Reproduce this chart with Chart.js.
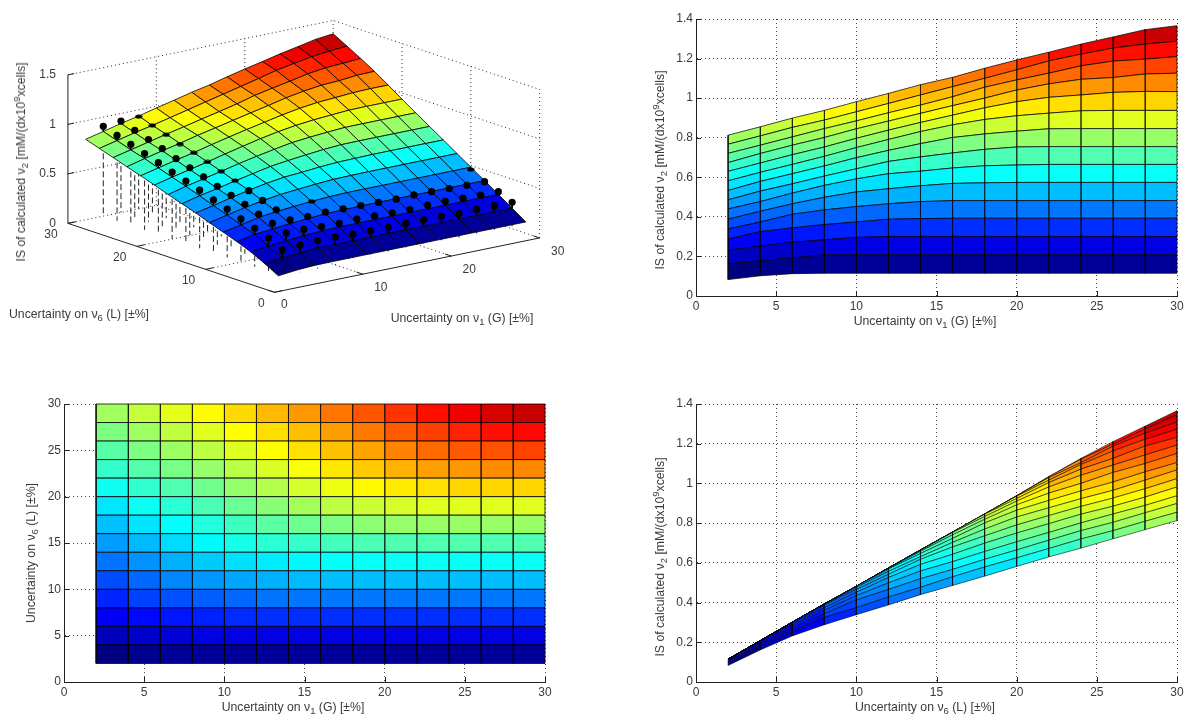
<!DOCTYPE html>
<html>
<head>
<meta charset="utf-8">
<title>IS of calculated v2</title>
<script src="https://cdn.jsdelivr.net/npm/chart.js@4/dist/chart.umd.min.js"></script>
<style>
  html, body { margin: 0; padding: 0; background: #fff; }
  #page { position: relative; width: 1200px; height: 723px; overflow: hidden; }
  canvas { position: absolute; }
  .lbl { position: absolute; font: 12.25px "Liberation Sans", sans-serif; color: #3a3a3a; white-space: nowrap; line-height: 14px; }
  .lbl sub, .lbl sup { font-size: 9.5px; line-height: 0; }
</style>
</head>
<body>
<div id="page"></div>
<script>
// grid of the two uncertainties (%)
const gridV1 = [2, 4, 6, 8, 10, 12, 14, 16, 18, 20, 22, 24, 26, 28, 30]
const gridV6 = [2, 4, 6, 8, 10, 12, 14, 16, 18, 20, 22, 24, 26, 28, 30]

// IS of v2, one row per v6 value, columns follow gridV1
const isAtV6_2  = [.083, .102, .113, .115, .115, .115, .115, .115, .115, .115, .115, .115, .115, .115, .115]
const isAtV6_4  = [.161, .178, .193, .208, .208, .208, .208, .208, .208, .208, .208, .208, .208, .208, .208]
const isAtV6_6  = [.232, .252, .271, .284, .296, .301, .301, .301, .301, .301, .301, .301, .301, .301, .301]
const isAtV6_8  = [.288, .325, .344, .361, .374, .388, .391, .393, .393, .393, .393, .393, .393, .393, .393]
const isAtV6_10 = [.339, .374, .413, .435, .452, .466, .477, .482, .482, .482, .482, .482, .482, .482, .482]
const isAtV6_12 = [.388, .428, .466, .499, .526, .542, .557, .569, .572, .574, .574, .574, .574, .574, .574]
const isAtV6_14 = [.440, .477, .520, .559, .592, .618, .631, .647, .658, .662, .665, .665, .665, .665, .665]
const isAtV6_16 = [.486, .530, .567, .606, .643, .680, .703, .723, .741, .753, .755, .755, .755, .755, .755]
const isAtV6_18 = [.533, .579, .618, .657, .699, .736, .770, .801, .819, .833, .845, .846, .846, .846, .846]
const isAtV6_20 = [.582, .625, .665, .706, .750, .791, .831, .865, .892, .911, .924, .936, .938, .938, .938]
const isAtV6_22 = [.630, .672, .714, .753, .797, .838, .877, .914, .951, .982, 1.004, 1.016, 1.029, 1.034, 1.033]
const isAtV6_24 = [.674, .720, .762, .801, .845, .884, .923, .962, 1.000, 1.041, 1.072, 1.095, 1.104, 1.122, 1.126]
const isAtV6_26 = [.721, .762, .804, .846, .885, .926, .965, 1.007, 1.055, 1.092, 1.126, 1.163, 1.187, 1.197, 1.210]
const isAtV6_28 = [.767, .809, .852, .889, .931, .973, 1.016, 1.058, 1.100, 1.143, 1.188, 1.222, 1.253, 1.273, 1.288]
const isAtV6_30 = [.813, .855, .899, .938, .982, 1.024, 1.068, 1.105, 1.151, 1.193, 1.232, 1.273, 1.309, 1.346, 1.366]
const isTable = [isAtV6_2, isAtV6_4, isAtV6_6, isAtV6_8, isAtV6_10, isAtV6_12, isAtV6_14, isAtV6_16,
  isAtV6_18, isAtV6_20, isAtV6_22, isAtV6_24, isAtV6_26, isAtV6_28, isAtV6_30]

// measured points, three columns along v6 = 4..30
const dotV6 = [4, 6, 8, 10, 12, 14, 16, 18, 20, 22, 24, 26, 28, 30]
const dotsV1_4 = [.262, .336, .387, .436, .488, .535, .587, .633, .678, .726, .772, .817, .862, .907]
const dotsV1_6 = [.276, .348, .400, .448, .500, .545, .590, .638, .683, .729, .784, .829, .877, .923]
const dotsV1_8 = [.283, .349, .400, .455, .503, .555, .610, .659, .706, .752, .794, .841, .890, .932]
// and three rows along v1 = 10..30
const dotV1 = [10, 12, 14, 16, 18, 20, 22, 24, 26, 28, 30]
const dotsV6_4 = [.283, .275, .275, .271, .274, .276, .272, .262, .268, .270, .267]
const dotsV6_6 = [.341, .337, .343, .339, .335, .331, .340, .340, .336, .331, .328]
const dotsV6_8 = [.396, .406, .401, .397, .394, .389, .395, .392, .387, .383, .383]
// the few points that only just break through the surface, [v1, v6, IS]
const peekingDots = [[12, 10, .467], [30, 10, .460]]

// ticks
const tickUnc = [0, 10, 20, 30]
const tickIs3d = [0, .5, 1, 1.5]

const FONT = '"Liberation Sans", sans-serif'
const TEXT = '#3a3a3a'
const page = document.getElementById('page')
const isFlat = isTable.flat()
const cMin = Math.min(...isFlat), cMax = Math.max(...isFlat)

function jet(v) {
  const t = (v - cMin) / (cMax - cMin)
  const ch = c => Math.round(255 * Math.max(0, Math.min(1, 1.5 - Math.abs(4 * t - c))))
  return `rgb(${ch(3)},${ch(2)},${ch(1)})`
}

function isAt(v1, v6) {
  return isTable[gridV6.indexOf(v6)][gridV1.indexOf(v1)]
}

function polyline(data, color, width, dash) {
  return { data, borderColor: color, borderWidth: width, borderDash: dash || [], pointRadius: 0, fill: false, clip: false }
}

// one closed dataset per surface cell, coloured by its lower corner
function surfaceCells(toXY, edge) {
  const out = []
  for (let j = 0; j < gridV6.length - 1; j++) {
    for (let i = 0; i < gridV1.length - 1; i++) {
      const c = [[i, j], [i + 1, j], [i + 1, j + 1], [i, j + 1], [i, j]]
      out.push({
        data: c.map(([a, b]) => toXY(gridV1[a], gridV6[b], isTable[b][a])),
        backgroundColor: jet(isTable[j][i]),
        borderColor: edge,
        borderWidth: 1,
        pointRadius: 0,
        fill: 'shape',
        clip: false
      })
    }
  }
  return out
}

function addCanvas(left, top, w, h) {
  const c = document.createElement('canvas')
  c.width = w; c.height = h
  c.style.left = left + 'px'; c.style.top = top + 'px'
  c.style.width = w + 'px'; c.style.height = h + 'px'
  page.appendChild(c)
  return c
}

function addLabel(html, x, y, rot) {
  const d = document.createElement('div')
  d.className = 'lbl'
  d.innerHTML = html
  d.style.left = x + 'px'; d.style.top = y + 'px'
  d.style.transform = `translate(-50%,-50%)${rot ? ' rotate(-90deg)' : ''}`
  page.appendChild(d)
}

// matlab style ticks, pointing into the plot
const insideTicks = {
  id: 'insideTicks',
  beforeDatasetsDraw(chart) {
    const { ctx, chartArea: a, scales } = chart
    ctx.save()
    ctx.strokeStyle = '#222'
    ctx.lineWidth = 1
    ctx.beginPath()
    scales.x.ticks.forEach(t => {
      const px = Math.round(scales.x.getPixelForValue(t.value)) + .5
      ctx.moveTo(px, a.bottom); ctx.lineTo(px, a.bottom - 5)
    })
    scales.y.ticks.forEach(t => {
      const py = Math.round(scales.y.getPixelForValue(t.value)) + .5
      ctx.moveTo(a.left, py); ctx.lineTo(a.left + 5, py)
    })
    ctx.stroke()
    ctx.restore()
  }
}

function flatChart(box, datasets, yMax, yStep) {
  const axis = (max, step, fitFn) => ({
    type: 'linear', min: 0, max,
    afterFit: fitFn,
    grid: { color: 'rgba(0,0,0,.7)', drawTicks: false },
    border: { dash: [1, 3], color: '#222', width: 1 },
    ticks: {
      stepSize: step, padding: 3, maxRotation: 0, autoSkip: false, color: TEXT,
      font: { family: FONT, size: 12 },
      callback: v => String(Math.round(v * 10) / 10)
    }
  })
  return new Chart(addCanvas(box.left, box.top, box.w, box.h), {
    type: 'line',
    data: { datasets },
    options: {
      responsive: false, animation: false, events: [],
      layout: { padding: { top: box.padTop, right: box.padRight, left: 0, bottom: 0 } },
      plugins: { legend: { display: false }, tooltip: { enabled: false } },
      scales: {
        x: axis(30, 5, s => { s.height = box.xSize }),
        y: axis(yMax, yStep, s => { s.width = box.ySize })
      }
    },
    plugins: [insideTicks]
  })
}

// top right: IS against v1
flatChart({ left: 640, top: 0, w: 560, h: 340, padTop: 19, padRight: 23, xSize: 44, ySize: 56 },
  surfaceCells((a, b, z) => ({ x: a, y: z }), 'rgba(0,0,0,.72)'), 1.4, .2)
// bottom left: seen from above
flatChart({ left: 0, top: 380, w: 560, h: 343, padTop: 24, padRight: 15, xSize: 41, ySize: 64 },
  surfaceCells((a, b) => ({ x: a, y: b }), 'rgba(0,0,0,.78)'), 30, 5)
// bottom right: IS against v6
flatChart({ left: 640, top: 380, w: 560, h: 343, padTop: 24, padRight: 23, xSize: 41, ySize: 56 },
  surfaceCells((a, b, z) => ({ x: b, y: z }), 'rgba(0,0,0,.55)'), 1.4, .2)

// top left: the same surface in an oblique view
const VIEW = { x0: 274, y0: 296, v1x: 8.99, v1y: -1.867, v6x: -7.0, v6y: -2.367, zy: -102 }
function project(v1, v6, z) {
  return {
    x: VIEW.x0 + v1 * VIEW.v1x + v6 * VIEW.v6x,
    y: VIEW.y0 + v1 * VIEW.v1y + v6 * VIEW.v6y + z * VIEW.zy
  }
}

const flatDot = document.createElement('canvas')
flatDot.width = 8; flatDot.height = 5
const fd = flatDot.getContext('2d')
fd.fillStyle = '#000'
fd.beginPath(); fd.ellipse(4, 2.5, 3.6, 2, 0, 0, 7); fd.fill()

const allDots = []
dotV6.forEach((l, k) => {
  allDots.push([4, l, dotsV1_4[k]], [6, l, dotsV1_6[k]], [8, l, dotsV1_8[k]])
})
dotV1.forEach((g, k) => {
  allDots.push([g, 4, dotsV6_4[k]], [g, 6, dotsV6_6[k]], [g, 8, dotsV6_8[k]])
})

const isHalfHidden = ([g, l]) => g === 8 && l >= 16
const roundDots = allDots.filter(d => !isHalfHidden(d))
const flatDots = allDots.filter(isHalfHidden).concat(peekingDots)

const dotSets = [
  { data: roundDots.map(d => project(...d)), showLine: false, pointRadius: 3.6, pointBackgroundColor: '#000', pointBorderWidth: 0, clip: false },
  { data: flatDots.map(d => project(...d)), showLine: false, pointRadius: 4, pointStyle: flatDot, clip: false }
]
const stubs = allDots.filter(d => d[2] > isAt(d[0], d[1]))
  .map(d => polyline([project(...d), project(d[0], d[1], isAt(d[0], d[1]))], '#000', 1))
const stems = allDots.map(d => polyline([project(...d), project(d[0], d[1], 0)], '#222', 1, [6, 3]))

const DOT = [1, 3]
const gridColor = 'rgba(0,0,0,.85)'
const boxLines = []
tickUnc.forEach(t => {
  if (t > 0 && t < 30) {
    boxLines.push(polyline([project(t, 0, 0), project(t, 30, 0)], gridColor, 1, DOT))
    boxLines.push(polyline([project(0, t, 0), project(30, t, 0)], gridColor, 1, DOT))
  }
  if (t > 0) boxLines.push(polyline([project(t, 30, 0), project(t, 30, 1.5)], gridColor, 1, DOT))
  if (t < 30) boxLines.push(polyline([project(30, t, 0), project(30, t, 1.5)], gridColor, 1, DOT))
})
tickIs3d.forEach(z => {
  boxLines.push(polyline([project(0, 30, z), project(30, 30, z), project(30, 0, z)], gridColor, 1, DOT))
})
const axisLines = [
  polyline([project(0, 30, 0), project(0, 30, 1.5)], '#222', 1),
  polyline([project(0, 30, 0), project(0, 0, 0)], '#222', 1),
  polyline([project(0, 0, 0), project(30, 0, 0)], '#222', 1)
]
tickUnc.forEach(t => {
  axisLines.push(polyline([project(0, t, 0), project(.9, t, 0)], '#222', 1))
  axisLines.push(polyline([project(t, 0, 0), project(t, .9, 0)], '#222', 1))
})
tickIs3d.forEach(z => {
  axisLines.push(polyline([project(0, 30, z), project(.7, 30, z)], '#222', 1))
})

const axisText3d = {
  id: 'axisText3d',
  afterDraw(chart) {
    const { ctx, scales } = chart
    const put = (txt, p, dx, dy, align) => {
      ctx.textAlign = align
      ctx.fillText(txt, scales.x.getPixelForValue(p.x) + dx, scales.y.getPixelForValue(p.y) + dy)
    }
    ctx.save()
    ctx.font = `12px ${FONT}`
    ctx.fillStyle = TEXT
    ctx.textBaseline = 'middle'
    tickIs3d.forEach(z => put(String(z), project(0, 30, z), -12, 0, 'right'))
    tickUnc.forEach(t => {
      put(String(t), project(0, t, 0), t ? -17 : -13, 11, 'center')
      put(String(t), project(t, 0, 0), t ? 18 : 10, t ? 14 : 12, 'center')
    })
    ctx.restore()
  }
}

new Chart(addCanvas(0, 0, 600, 340), {
  type: 'line',
  data: { datasets: [...dotSets, ...stubs, ...surfaceCells(project, 'rgba(0,0,0,.78)'), ...stems, ...axisLines, ...boxLines] },
  options: {
    responsive: false, animation: false, events: [],
    layout: { padding: 0 },
    plugins: { legend: { display: false }, tooltip: { enabled: false } },
    scales: {
      x: { type: 'linear', min: 0, max: 600, display: false },
      y: { type: 'linear', min: 0, max: 340, reverse: true, display: false }
    }
  },
  plugins: [axisText3d]
})

// axis titles, html because of the sub and superscripts
const titleV1 = 'Uncertainty on ν<sub>1</sub> (G) [±%]'
const titleV6 = 'Uncertainty on ν<sub>6</sub> (L) [±%]'
const titleIs = 'IS of calculated ν<sub>2</sub> [mM/(dx10<sup>9</sup>xcells]'

addLabel(titleV6, 79, 314)
addLabel(titleV1, 462, 318)
addLabel(titleIs, 21, 162, true)
addLabel(titleV1, 925, 321)
addLabel(titleIs, 660, 170, true)
addLabel(titleV1, 293, 707)
addLabel(titleV6, 31, 553, true)
addLabel(titleV6, 925, 707)
addLabel(titleIs, 660, 557, true)
</script>
</body>
</html>
